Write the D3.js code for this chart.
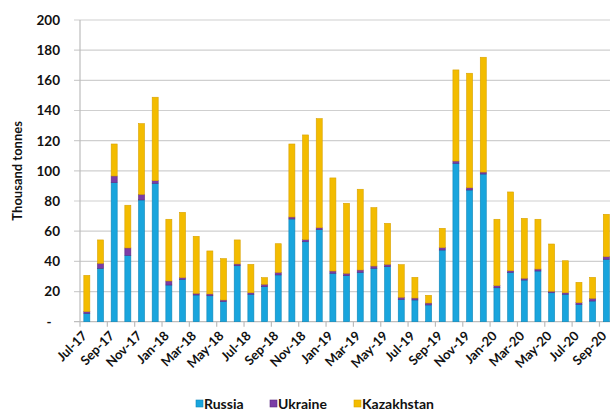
<!DOCTYPE html>
<html><head><meta charset="utf-8">
<script src="https://cdn.jsdelivr.net/npm/d3@7"></script>
<style>body{margin:0;background:#fff;} svg{display:block;font-family:Lato,"Open Sans",sans-serif;font-weight:bold;}</style>
</head><body>
<svg id="c" width="610" height="411"></svg>
<script>
const months = ["Jul-17","Aug-17","Sep-17","Oct-17","Nov-17","Dec-17","Jan-18","Feb-18","Mar-18","Apr-18","May-18","Jun-18","Jul-18","Aug-18","Sep-18","Oct-18","Nov-18","Dec-18","Jan-19","Feb-19","Mar-19","Apr-19","May-19","Jun-19","Jul-19","Aug-19","Sep-19","Oct-19","Nov-19","Dec-19","Jan-20","Feb-20","Mar-20","Apr-20","May-20","Jun-20","Jul-20","Aug-20","Sep-20"];
const russia =     [5.5,35.4,92.2,44.0,80.7,91.7,24.3,28.1,17.7,17.2,13.3,37.1,18.2,23.2,31.0,68.1,53.0,61.2,32.1,30.5,32.7,35.4,36.5,14.8,14.4,11.1,47.5,105.0,87.3,97.9,22.5,32.7,27.6,33.6,19.2,18.2,11.5,13.7,41.4];
const ukraine =    [1.2,3.3,4.4,4.9,3.7,1.8,2.7,1.1,1.1,1.2,1.1,1.2,1.0,1.6,1.7,1.3,1.4,1.1,1.5,1.6,1.6,1.5,1.5,1.4,1.3,1.3,1.6,1.5,1.5,1.3,1.4,1.1,1.2,1.3,1.0,1.0,1.1,1.8,1.7];
const kazakhstan = [24.0,15.5,21.2,28.3,46.9,55.3,40.9,43.3,37.8,28.5,27.4,15.9,18.8,4.4,19.0,48.4,69.4,72.3,61.7,46.4,53.5,38.7,27.2,21.6,13.7,5.1,12.8,60.4,75.9,76.1,44.0,52.2,39.7,33.0,31.3,21.2,13.5,13.9,28.1];
const seriesNames = ["Russia","Ukraine","Kazakhstan"];
const colors = ["#19a5dd","#7b3ca6","#f3bc00"];
const edge = ["#0f86b8","#5a2a80","#d9a200"];
const yTicks = [0,20,40,60,80,100,120,140,160,180,200];

const svg = d3.select("#c");
const x0 = 80, bandW = 13.67;
const x = d3.scaleBand().domain(months).range([x0, x0 + bandW*months.length]).paddingInner(0.56).paddingOuter(0.28);
const y = d3.scaleLinear().domain([0,200]).range([321.7, 20]);

svg.append("g").selectAll("line").data(yTicks.filter(d=>d>0)).join("line")
  .attr("x1",74).attr("x2",610).attr("y1",d=>y(d)).attr("y2",d=>y(d))
  .attr("stroke","#cfcfcf").attr("stroke-width",1.2);
svg.append("line").attr("x1",74).attr("x2",610).attr("y1",y(0)).attr("y2",y(0)).attr("stroke","#bdbdbd").attr("stroke-width",1.2);
svg.append("line").attr("x1",x0).attr("x2",x0).attr("y1",y(200)).attr("y2",y(0)).attr("stroke","#bdbdbd").attr("stroke-width",1.2);

svg.append("g").selectAll("text").data(yTicks).join("text")
  .attr("x",d=>d===0?49:60).attr("y",d=>y(d)).attr("dy","0.36em")
  .attr("text-anchor",d=>d===0?"middle":"end").attr("font-size",13.5).attr("fill","#111")
  .text(d=>d===0?"-":d);

svg.append("text").attr("transform","translate(22,"+y(100)+") rotate(-90)")
  .attr("text-anchor","middle").attr("font-size",13).attr("fill","#111").text("Thousand tonnes");

const tickIdx = months.map((m,i)=>i).filter(i=>i%2===0);
svg.append("g").selectAll("line").data(tickIdx).join("line")
  .attr("x1",i=>x0+i*bandW).attr("x2",i=>x0+i*bandW).attr("y1",y(0)).attr("y2",y(0)+5)
  .attr("stroke","#bdbdbd").attr("stroke-width",1.2);

const table = months.map((m,i)=>({month:m, Russia:russia[i], Ukraine:ukraine[i], Kazakhstan:kazakhstan[i]}));
const stack = d3.stack().keys(seriesNames)(table);
svg.append("g").selectAll("g").data(stack).join("g")
  .attr("fill",(d,i)=>colors[i]).attr("stroke",(d,i)=>edge[i]).attr("stroke-width",0.6)
  .selectAll("rect").data(d=>d).join("rect")
  .attr("x",d=>x(d.data.month)).attr("width",x.bandwidth())
  .attr("y",d=>y(d[1])).attr("height",d=>Math.max(0,y(d[0])-y(d[1])));

svg.append("g").selectAll("text").data(tickIdx).join("text")
  .attr("transform",i=>"translate("+(x(months[i])+x.bandwidth()/2+1)+","+(y(0)+15)+") rotate(-45)")
  .attr("text-anchor","end").attr("font-size",13).attr("fill","#111")
  .text(i=>months[i]);

const leg = [{n:"Russia",x:196},{n:"Ukraine",x:270},{n:"Kazakhstan",x:354}];
const lg = svg.append("g");
leg.forEach((l,i)=>{
  lg.append("rect").attr("x",l.x).attr("y",400).attr("width",7).attr("height",7).attr("fill",colors[i]).attr("stroke",edge[i]).attr("stroke-width",0.6);
  lg.append("text").attr("x",l.x+8).attr("y",404).attr("dy","0.36em").attr("font-size",14).attr("fill","#111").text(l.n);
});
</script>
</body></html>
